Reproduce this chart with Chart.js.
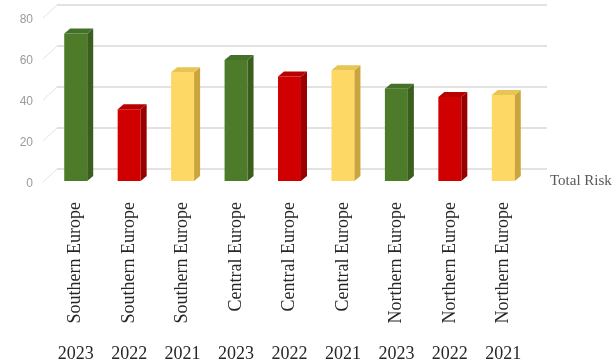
<!DOCTYPE html>
<html>
<head>
<meta charset="utf-8">
<script src="https://cdn.jsdelivr.net/npm/chart.js@4/dist/chart.umd.min.js"></script>
<style>
  body { margin: 0; background: #fff; }
  #wrap { width: 615px; height: 359px; position: relative; }
</style>
</head>
<body>
<div id="wrap"><canvas id="riskChart"></canvas></div>
<script>
const regions = ['Southern Europe', 'Southern Europe', 'Southern Europe',
                 'Central Europe', 'Central Europe', 'Central Europe',
                 'Northern Europe', 'Northern Europe', 'Northern Europe'];
const years = ['2023', '2022', '2021', '2023', '2022', '2021', '2023', '2022', '2021'];
const totalRisk = [72, 35, 53, 59, 51, 54, 45, 41, 42];
const yTicks = [0, 20, 40, 60, 80];

// colour per year: front, side, top
const yearColors = {
    '2023': ['#4e7b29', '#3a5e1d', '#45702a'],
    '2022': ['#d00000', '#980000', '#b80000'],
    '2021': ['#fdd865', '#c9a53c', '#e8c452']
};

const DEPTH_X = 6, DEPTH_Y = 5;

// back wall grid + little diagonal wall edges
const wallGrid = {
    id: 'wallGrid',
    beforeDatasetsDraw(chart) {
        const ctx = chart.ctx;
        const area = chart.chartArea;
        const y = chart.scales.y;
        ctx.save();
        ctx.strokeStyle = '#e2e2e2';
        yTicks.forEach(v => {
            const py = y.getPixelForValue(v);
            ctx.lineWidth = 2;
            ctx.beginPath();
            ctx.moveTo(area.left + 8, py - 12);
            ctx.lineTo(area.right + 17, py - 12);
            ctx.stroke();
            ctx.lineWidth = 1;
            ctx.beginPath();
            ctx.moveTo(area.left - 6, py + 1);
            ctx.lineTo(area.left + 8, py - 12);
            ctx.stroke();
        });
        ctx.restore();
    }
};

// side and top faces of each bar
const bars3d = {
    id: 'bars3d',
    afterDatasetsDraw(chart) {
        const ctx = chart.ctx;
        const meta = chart.getDatasetMeta(0);
        ctx.save();
        meta.data.forEach((bar, i) => {
            const p = bar.getProps(['x', 'y', 'base', 'width'], true);
            const left = p.x - p.width / 2;
            const right = p.x + p.width / 2;
            const c = yearColors[years[i]];
            ctx.fillStyle = c[1];
            ctx.beginPath();
            ctx.moveTo(right, p.y);
            ctx.lineTo(right + DEPTH_X, p.y - DEPTH_Y);
            ctx.lineTo(right + DEPTH_X, p.base - DEPTH_Y);
            ctx.lineTo(right, p.base);
            ctx.closePath();
            ctx.fill();
            ctx.fillStyle = c[2];
            ctx.beginPath();
            ctx.moveTo(left, p.y);
            ctx.lineTo(left + DEPTH_X, p.y - DEPTH_Y);
            ctx.lineTo(right + DEPTH_X, p.y - DEPTH_Y);
            ctx.lineTo(right, p.y);
            ctx.closePath();
            ctx.fill();
        });
        ctx.restore();
    },
    afterDraw(chart) {
        const ctx = chart.ctx;
        const area = chart.chartArea;
        ctx.save();
        ctx.fillStyle = '#595959';
        ctx.font = '15px "Liberation Serif"';
        ctx.textAlign = 'left';
        ctx.textBaseline = 'middle';
        ctx.fillText('Total Risk', area.right + 20, chart.scales.y.getPixelForValue(0));
        ctx.restore();
    }
};

const ctx = document.getElementById('riskChart').getContext('2d');
new Chart(ctx, {
    type: 'bar',
    data: {
        labels: regions,
        datasets: [{
            label: 'Total Risk',
            data: totalRisk,
            backgroundColor: years.map(y => yearColors[y][0]),
            categoryPercentage: 0.86,
            barPercentage: 0.5
        }]
    },
    options: {
        responsive: true,
        maintainAspectRatio: false,
        animation: false,
        layout: { padding: { left: 0, top: 17, right: 85, bottom: 0 } },
        plugins: {
            legend: { display: false },
            tooltip: { enabled: false }
        },
        scales: {
            y: {
                min: 0,
                max: 80,
                ticks: {
                    stepSize: 20,
                    padding: 16,
                    labelOffset: 3,
                    color: '#9a9a9a',
                    font: { family: 'Liberation Sans', size: 12 }
                },
                grid: { display: false, drawTicks: false },
                border: { display: false },
                afterFit: s => { s.width = 49; s.paddingTop = 8; s.paddingBottom = 8; }
            },
            x: {
                weight: 0,
                ticks: {
                    minRotation: 90,
                    maxRotation: 90,
                    padding: 21,
                    color: '#262626',
                    font: { family: 'Liberation Serif', size: 18 }
                },
                grid: { display: false, drawTicks: false },
                border: { display: false },
                afterFit: s => { s.height = 150; }
            },
            x2: {
                type: 'category',
                position: 'bottom',
                weight: 1,
                labels: years,
                offset: true,
                ticks: {
                    padding: 14,
                    color: '#262626',
                    font: { family: 'Liberation Serif', size: 18, lineHeight: 1 }
                },
                grid: { display: false, drawTicks: false },
                border: { display: false },
                afterFit: s => { s.height = 28; }
            }
        }
    },
    plugins: [wallGrid, bars3d]
});
</script>
</body>
</html>
